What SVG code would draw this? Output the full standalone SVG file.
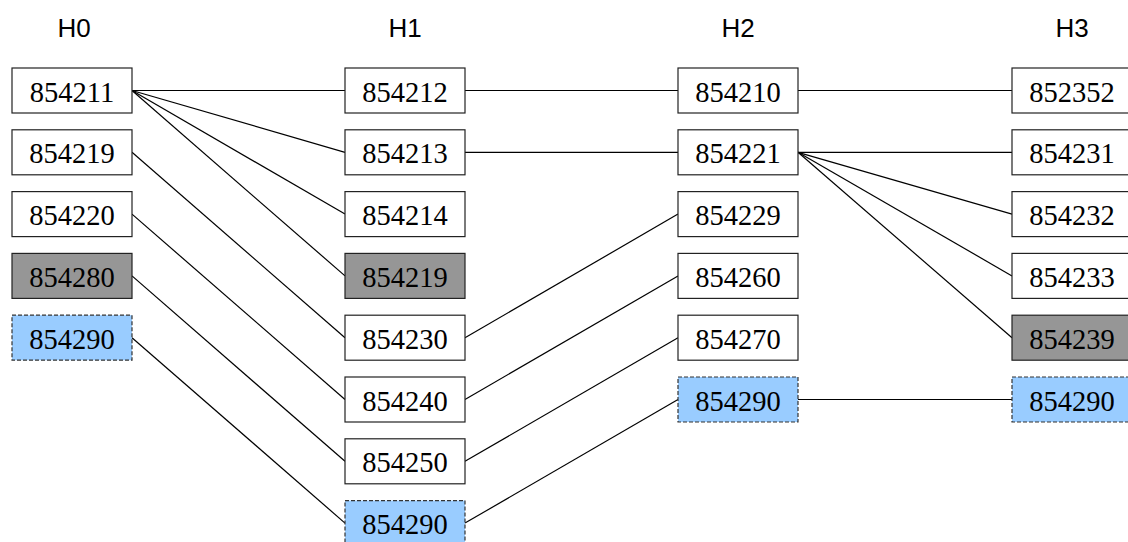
<svg xmlns="http://www.w3.org/2000/svg" width="1128" height="542" viewBox="0 0 1128 542">
<style>
.hdr{font-family:"Liberation Sans",Arial,sans-serif;font-size:26px;fill:#000;text-anchor:middle}
.box{fill:#fff;stroke:#222;stroke-width:1.2}
.gray{fill:#969696;stroke:#222;stroke-width:1.2}
.blue{fill:#99ccff;stroke:#333;stroke-width:1.2;stroke-dasharray:4 2}
.lbl{font-family:"Liberation Serif","Times New Roman",serif;font-size:28.5px;fill:#000;text-anchor:middle}
.conn line{stroke:#000;stroke-width:1.2}
</style>
<rect width="1128" height="542" fill="#fff"/>
<g id="headers">
<text class="hdr" x="74" y="37">H0</text>
<text class="hdr" x="405" y="37">H1</text>
<text class="hdr" x="738" y="37">H2</text>
<text class="hdr" x="1072" y="37">H3</text>
</g>
<g id="connectors" class="conn">
<line x1="132" y1="90.5" x2="345" y2="90.5"/>
<line x1="132" y1="90.5" x2="345" y2="152.3"/>
<line x1="132" y1="90.5" x2="345" y2="214.1"/>
<line x1="132" y1="90.5" x2="345" y2="275.9"/>
<line x1="132" y1="152.3" x2="345" y2="337.7"/>
<line x1="132" y1="214.1" x2="345" y2="399.5"/>
<line x1="132" y1="275.9" x2="345" y2="461.3"/>
<line x1="132" y1="337.7" x2="345" y2="523.1"/>
<line x1="465" y1="90.5" x2="678" y2="90.5"/>
<line x1="465" y1="152.3" x2="678" y2="152.3"/>
<line x1="465" y1="337.7" x2="678" y2="214.1"/>
<line x1="465" y1="399.5" x2="678" y2="275.9"/>
<line x1="465" y1="461.3" x2="678" y2="337.7"/>
<line x1="465" y1="523.1" x2="678" y2="399.5"/>
<line x1="798" y1="90.5" x2="1012" y2="90.5"/>
<line x1="798" y1="152.3" x2="1012" y2="152.3"/>
<line x1="798" y1="152.3" x2="1012" y2="214.1"/>
<line x1="798" y1="152.3" x2="1012" y2="275.9"/>
<line x1="798" y1="152.3" x2="1012" y2="337.7"/>
<line x1="798" y1="399.5" x2="1012" y2="399.5"/>
</g>
<g id="nodes">
<g id="h0_854211"><rect class="box" x="12" y="68" width="120" height="45"/><text class="lbl" x="72" y="101.5">854211</text></g>
<g id="h0_854219"><rect class="box" x="12" y="129.8" width="120" height="45"/><text class="lbl" x="72" y="163.3">854219</text></g>
<g id="h0_854220"><rect class="box" x="12" y="191.6" width="120" height="45"/><text class="lbl" x="72" y="225.1">854220</text></g>
<g id="h0_854280"><rect class="gray" x="12" y="253.4" width="120" height="45"/><text class="lbl" x="72" y="286.9">854280</text></g>
<g id="h0_854290"><rect class="blue" x="12" y="315.2" width="120" height="45"/><text class="lbl" x="72" y="348.7">854290</text></g>

<g id="h1_854212"><rect class="box" x="345" y="68" width="120" height="45"/><text class="lbl" x="405" y="101.5">854212</text></g>
<g id="h1_854213"><rect class="box" x="345" y="129.8" width="120" height="45"/><text class="lbl" x="405" y="163.3">854213</text></g>
<g id="h1_854214"><rect class="box" x="345" y="191.6" width="120" height="45"/><text class="lbl" x="405" y="225.1">854214</text></g>
<g id="h1_854219"><rect class="gray" x="345" y="253.4" width="120" height="45"/><text class="lbl" x="405" y="286.9">854219</text></g>
<g id="h1_854230"><rect class="box" x="345" y="315.2" width="120" height="45"/><text class="lbl" x="405" y="348.7">854230</text></g>
<g id="h1_854240"><rect class="box" x="345" y="377" width="120" height="45"/><text class="lbl" x="405" y="410.5">854240</text></g>
<g id="h1_854250"><rect class="box" x="345" y="438.8" width="120" height="45"/><text class="lbl" x="405" y="472.3">854250</text></g>
<g id="h1_854290"><rect class="blue" x="345" y="500.6" width="120" height="45"/><text class="lbl" x="405" y="534.1">854290</text></g>

<g id="h2_854210"><rect class="box" x="678" y="68" width="120" height="45"/><text class="lbl" x="738" y="101.5">854210</text></g>
<g id="h2_854221"><rect class="box" x="678" y="129.8" width="120" height="45"/><text class="lbl" x="738" y="163.3">854221</text></g>
<g id="h2_854229"><rect class="box" x="678" y="191.6" width="120" height="45"/><text class="lbl" x="738" y="225.1">854229</text></g>
<g id="h2_854260"><rect class="box" x="678" y="253.4" width="120" height="45"/><text class="lbl" x="738" y="286.9">854260</text></g>
<g id="h2_854270"><rect class="box" x="678" y="315.2" width="120" height="45"/><text class="lbl" x="738" y="348.7">854270</text></g>
<g id="h2_854290"><rect class="blue" x="678" y="377" width="120" height="45"/><text class="lbl" x="738" y="410.5">854290</text></g>

<g id="h3_852352"><rect class="box" x="1012" y="68" width="120" height="45"/><text class="lbl" x="1072" y="101.5">852352</text></g>
<g id="h3_854231"><rect class="box" x="1012" y="129.8" width="120" height="45"/><text class="lbl" x="1072" y="163.3">854231</text></g>
<g id="h3_854232"><rect class="box" x="1012" y="191.6" width="120" height="45"/><text class="lbl" x="1072" y="225.1">854232</text></g>
<g id="h3_854233"><rect class="box" x="1012" y="253.4" width="120" height="45"/><text class="lbl" x="1072" y="286.9">854233</text></g>
<g id="h3_854239"><rect class="gray" x="1012" y="315.2" width="120" height="45"/><text class="lbl" x="1072" y="348.7">854239</text></g>
<g id="h3_854290"><rect class="blue" x="1012" y="377" width="120" height="45"/><text class="lbl" x="1072" y="410.5">854290</text></g>
</g>
</svg>
